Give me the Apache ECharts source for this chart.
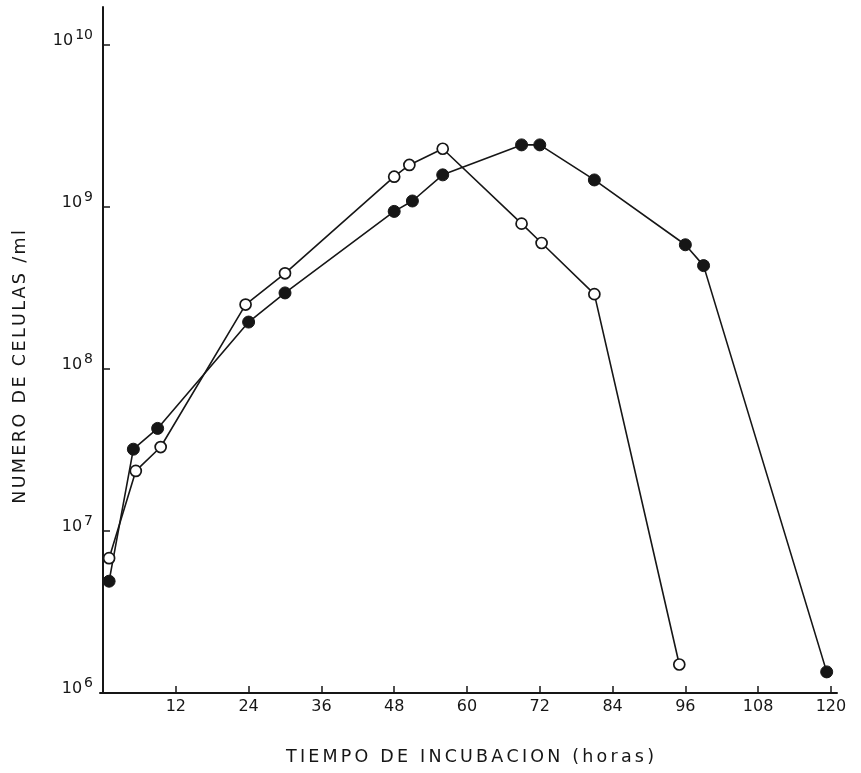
<!DOCTYPE html>
<html><head><meta charset="utf-8">
<script src="https://cdn.jsdelivr.net/npm/echarts@6/dist/echarts.min.js"></script>
<style>html,body{margin:0;padding:0;background:#fff}#c{width:861px;height:773px}</style>
</head><body><div id="c"></div>
<script>
// Data
const hoursFilled = [1, 5, 9, 24, 30, 48, 51, 56, 69, 72, 81, 96, 99, 119.3];
const cellsFilled = [4.9e6, 3.2e7, 4.3e7, 1.95e8, 2.95e8, 9.4e8, 1.09e9, 1.58e9, 2.42e9, 2.42e9, 1.47e9, 5.85e8, 4.35e8, 1.35e6];
const hoursOpen = [1, 5.4, 9.5, 23.5, 30, 48, 50.5, 56, 69, 72.3, 81, 95];
const cellsOpen = [6.8e6, 2.35e7, 3.3e7, 2.5e8, 3.9e8, 1.54e9, 1.82e9, 2.29e9, 7.9e8, 6.0e8, 2.9e8, 1.5e6];
const xTickValues = [12, 24, 36, 48, 60, 72, 84, 96, 108, 120];
const xTitle = 'TIEMPO DE INCUBACION (horas)';
const yTitle = 'NUMERO DE CELULAS /ml';

const FONT = '"DejaVu Sans", "Liberation Sans", sans-serif';
const INK = '#161616';

function spaced(str) {
  return str.split('').map(ch => '{c|' + ch + '}').join('');
}

const chart = echarts.init(document.getElementById('c'), null, {renderer: 'canvas'});
chart.setOption({
  animation: false,
  backgroundColor: '#fff',
  grid: {left: 100, right: 24, top: 7, bottom: 80, containLabel: false},
  xAxis: {
    type: 'value',
    min: -0.5,
    max: 121,
    axisLine: {show: true, lineStyle: {color: INK, width: 2}},
    axisTick: {show: true, inside: true, length: 7, lineStyle: {color: INK, width: 1.5}, customValues: xTickValues},
    axisLabel: {show: true, margin: 6, fontSize: 16, fontFamily: FONT, color: INK, customValues: xTickValues},
    splitLine: {show: false}
  },
  yAxis: {
    type: 'log',
    logBase: 10,
    min: 1e6,
    max: Math.pow(10, 10.235),
    axisLine: {show: true, lineStyle: {color: INK, width: 2}},
    axisTick: {show: true, inside: true, length: 7, lineStyle: {color: INK, width: 1.5}},
    minorTick: {show: false},
    splitLine: {show: false},
    axisLabel: {
      show: true,
      margin: 7,
      showMaxLabel: false,
      padding: [0, 0, 18, 0],
      formatter: function (v) {
        const e = Math.round(Math.log10(v));
        if (Math.abs(Math.log10(v) - e) > 0.01) return '';
        return '{b|10}{s|' + e + '}';
      },
      rich: {
        b: {fontSize: 16, fontFamily: FONT, color: INK, lineHeight: 16, padding: [10, 0, 0, 0]},
        s: {fontSize: 14, fontFamily: FONT, color: INK, lineHeight: 14, verticalAlign: 'top', padding: [0, 0, 0, 2]}
      }
    }
  },
  graphic: [
    {
      type: 'text', x: 470, y: 757,
      style: {
        text: spaced(xTitle), align: 'center', verticalAlign: 'middle',
        rich: {c: {fontSize: 17.5, fontFamily: FONT, fill: INK, color: INK, padding: [0, 1.6]}}
      }
    },
    {
      type: 'text', x: 20, y: 367, rotation: Math.PI / 2,
      style: {
        text: spaced(yTitle), align: 'center', verticalAlign: 'middle',
        rich: {c: {fontSize: 17.5, fontFamily: FONT, fill: INK, color: INK, padding: [0, 1.2]}}
      }
    }
  ],
  series: [
    {
      name: 'filled', type: 'line',
      data: hoursFilled.map((h, i) => [h, cellsFilled[i]]),
      symbol: 'circle', symbolSize: 12, showAllSymbol: true, clip: false,
      lineStyle: {color: INK, width: 1.6},
      itemStyle: {color: INK, borderColor: INK, borderWidth: 1}
    },
    {
      name: 'open', type: 'line',
      data: hoursOpen.map((h, i) => [h, cellsOpen[i]]),
      symbol: 'circle', symbolSize: 11, showAllSymbol: true, clip: false,
      lineStyle: {color: INK, width: 1.6},
      itemStyle: {color: '#fff', borderColor: INK, borderWidth: 1.7}
    }
  ]
});
</script>
</body></html>
